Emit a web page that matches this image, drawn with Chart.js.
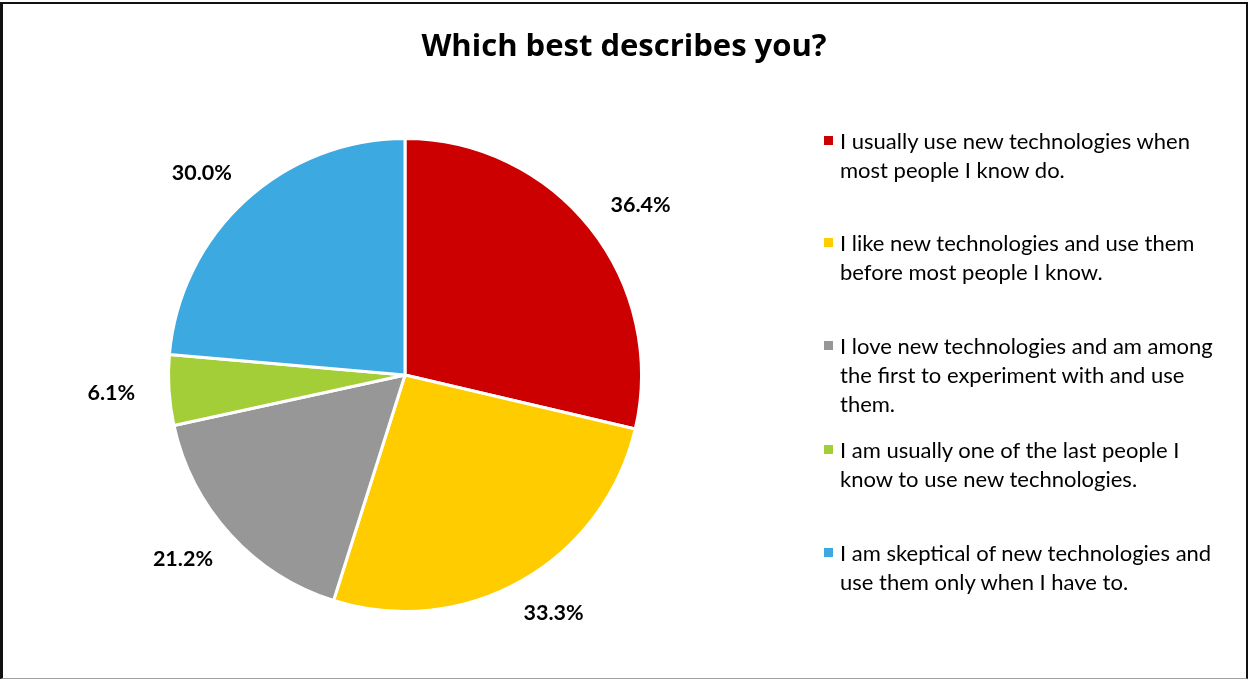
<!DOCTYPE html>
<html>
<head>
<meta charset="utf-8">
<script src="https://cdn.jsdelivr.net/npm/chart.js@4.4.1/dist/chart.umd.min.js"></script>
<style>
  html, body { margin: 0; padding: 0; background: #fff; }
  #wrap { position: relative; width: 1248px; height: 679px; overflow: hidden; }
  #pie { position: absolute; left: 0; top: 0; }
  #frame { position: absolute; left: 0; top: 2px; width: 1248px; height: 677px; box-sizing: border-box;
    border-left: 3px solid #111; border-top: 2px solid #111; border-right: 2px solid #111; border-bottom: 1px solid #a0a0a0;
    pointer-events: none; }
  .item { position: absolute; left: 840px; font-family: Lato, "Open Sans", sans-serif; font-size: 22px; line-height: 29px; color: #000; white-space: nowrap; }
  .item i { position: absolute; left: -16px; top: 10px; width: 9px; height: 9px; }
</style>
</head>
<body>
<div id="wrap">
  <canvas id="pie" width="1248" height="679"></canvas>
  <div id="legend"></div>
  <div id="frame"></div>
</div>
<script>
const title = 'Which best describes you?';
const categories = [
  ['I usually use new technologies when', 'most people I know do.'],
  ['I like new technologies and use them', 'before most people I know.'],
  ['I love new technologies and am among', 'the first to experiment with and use', 'them.'],
  ['I am usually one of the last people I', 'know to use new technologies.'],
  ['I am skeptical of new technologies and', 'use them only when I have to.']
];
const percents = [36.4, 33.3, 21.2, 6.1, 30.0];
const colors = ['#CC0000', '#FFCC00', '#979797', '#A4CE38', '#3DA9E1'];
const legendTops = [126, 228, 331, 435, 538];

// percent labels outside each slice, plus the title across the whole canvas
const outsideLabels = {
  id: 'outsideLabels',
  afterDatasetsDraw(chart) {
    const ctx = chart.ctx;
    const meta = chart.getDatasetMeta(0);
    ctx.save();
    ctx.font = 'bold 21.5px Lato, "Open Sans", sans-serif';
    ctx.fillStyle = '#000';
    ctx.textAlign = 'center';
    ctx.textBaseline = 'middle';
    meta.data.forEach((arc, i) => {
      const mid = (arc.startAngle + arc.endAngle) / 2;
      const text = percents[i].toFixed(1) + '%';
      const w = ctx.measureText(text).width;
      const x = arc.x + Math.cos(mid) * (arc.outerRadius + 34 + w / 2);
      const y = arc.y + Math.sin(mid) * (arc.outerRadius + 37);
      ctx.fillText(text, x, y);
    });
    ctx.font = 'bold 31px "Open Sans", Lato, sans-serif';
    ctx.fillText(title, chart.width / 2, 47);
    ctx.restore();
  }
};

const chart = new Chart(document.getElementById('pie'), {
  type: 'pie',
  data: {
    labels: categories,
    datasets: [{
      data: percents,
      backgroundColor: colors,
      borderColor: '#fff',
      borderWidth: 3
    }]
  },
  options: {
    responsive: false,
    animation: false,
    layout: { padding: { left: 167, right: 605, top: 137, bottom: 66 } },
    plugins: {
      legend: { display: false },
      tooltip: { enabled: false }
    }
  },
  plugins: [outsideLabels]
});

// legend with the chart's own labels and colours
const legend = document.getElementById('legend');
chart.data.labels.forEach((lines, i) => {
  const div = document.createElement('div');
  div.className = 'item';
  div.style.top = legendTops[i] + 'px';
  const box = document.createElement('i');
  box.style.background = chart.data.datasets[0].backgroundColor[i];
  div.appendChild(box);
  lines.forEach((line, k) => {
    if (k) div.appendChild(document.createElement('br'));
    div.appendChild(document.createTextNode(line));
  });
  legend.appendChild(div);
});
</script>
</body>
</html>
